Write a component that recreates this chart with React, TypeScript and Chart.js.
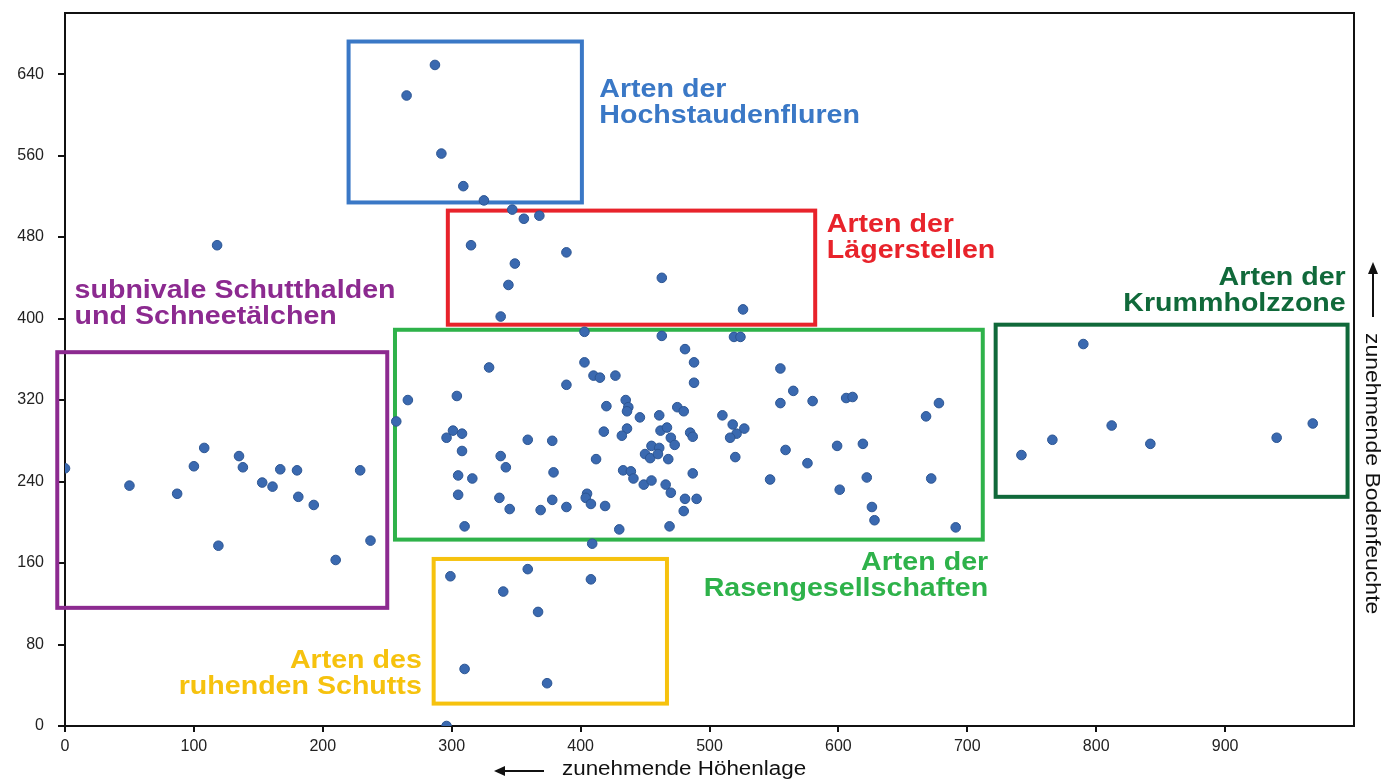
import React, { useEffect, useRef } from "react";
import { Chart, registerables } from "chart.js";

Chart.register(...registerables);

// Höhenlage (x) und Bodenfeuchte (y) der Arten
const hoehenlage: number[] = [
  0, 50, 87, 100, 108, 119, 135, 138, 153, 161, 167, 180, 181, 193, 210, 229, 237, 118,
  257, 266,
  287, 265, 292, 309, 325, 347, 356, 368,
  315, 389, 349, 344, 463, 526, 338,
  403, 463, 519, 524, 481, 488, 403, 329, 410, 415, 427, 389, 488, 555, 565, 555, 580, 606, 611, 678, 668,
  304, 435, 420, 437, 436, 446, 461, 475, 480, 510, 518, 527, 521, 516, 559, 520, 599, 619, 576, 547, 622,
  672, 601, 626, 628, 691, 418, 436, 432, 462, 467, 470, 473, 485, 487, 455, 461, 450, 454, 460, 468, 412,
  433, 439, 441, 449, 455, 487, 466, 470, 481, 490, 480, 405, 404, 408, 389, 419, 430, 469, 409,
  296, 301, 308, 308, 359, 378, 338, 342, 379, 305, 316, 305, 337, 345, 369, 378, 310,
  299, 359, 408, 340, 367, 310, 374, 296,
  742, 766, 812, 842, 940, 968, 790,
];
const bodenfeuchte: number[] = [
  253, 236, 228, 255, 273, 177, 265, 254, 239, 235, 252, 251, 225, 217, 163, 251, 182, 472,
  299, 320,
  649, 619, 562, 530, 516, 507, 498, 501,
  472, 465, 454, 433, 440, 409, 402,
  387, 383, 382, 382, 370, 357, 357, 352, 344, 342, 344, 335, 337, 351, 329, 317, 319, 322, 323, 317, 304,
  324, 320, 314, 313, 309, 303, 305, 313, 309, 305, 296, 292, 287, 283, 271, 264, 275, 277, 258, 242, 244,
  243, 232, 215, 202, 195, 289, 292, 285, 290, 293, 283, 276, 288, 284, 275, 273, 267, 263, 267, 262, 262,
  251, 250, 243, 237, 241, 248, 237, 229, 223, 223, 211, 228, 224, 218, 215, 216, 193, 196, 179,
  283, 290, 287, 270, 281, 280, 265, 254, 249, 246, 243, 227, 224, 213, 212, 222, 196,
  147, 154, 144, 132, 112, 56, 42, 0,
  266, 281, 295, 277, 283, 297, 375,
];

const xTickValues: number[] = [0, 100, 200, 300, 400, 500, 600, 700, 800, 900];
const yTickValues: number[] = [0, 80, 160, 240, 320, 400, 480, 560, 640];

// Gruppen (Bereiche in Datenkoordinaten: x von-bis, y von-bis)
const gruppenNamen: string[][] = [
  ["Arten der", "Hochstaudenfluren"],
  ["Arten der", "Lägerstellen"],
  ["Arten der", "Rasengesellschaften"],
  ["subnivale Schutthalden", "und Schneetälchen"],
  ["Arten des", "ruhenden Schutts"],
  ["Arten der", "Krummholzzone"],
];
const gruppenX: number[][] = [[220, 401], [297, 582], [256, 712], [-6, 250], [286, 467], [722, 995]];
const gruppenY: number[][] = [[514, 672], [394, 506], [183, 389], [116, 367], [22, 164], [225, 394]];
const gruppenFarben: string[] = ["#3a78c6", "#e8232b", "#2eb24a", "#8c2a90", "#f6c20e", "#10693a"];
// Beschriftungsanker (Datenkoordinaten) und Ausrichtung
const labelX: number[] = [414.5, 591, 716.2, 7.4, 276.8, 993.6];
const labelY: number[] = [617.5, 485, 153.2, 420.2, 56.6, 433];
const labelAlign: CanvasTextAlign[] = ["left", "left", "right", "left", "right", "right"];

const xTitel = "zunehmende Höhenlage";
const yTitel = "zunehmende Bodenfeuchte";

function drawStretched(
  ctx: CanvasRenderingContext2D,
  text: string,
  x: number,
  y: number,
  align: CanvasTextAlign,
  font: string,
  color: string,
  sx: number
) {
  ctx.save();
  ctx.translate(x, y);
  ctx.scale(sx, 1);
  ctx.font = font;
  ctx.fillStyle = color;
  ctx.textAlign = align;
  ctx.textBaseline = "alphabetic";
  ctx.fillText(text, 0, 0);
  ctx.restore();
}

const boxesPlugin = {
  id: "gruppenBoxen",
  beforeDatasetsDraw(chart: any) {
    const ctx: CanvasRenderingContext2D = chart.ctx;
    const xs = chart.scales.x;
    const ys = chart.scales.y;
    ctx.save();
    ctx.lineWidth = 4;
    for (let i = 0; i < gruppenX.length; i++) {
      const x1 = xs.getPixelForValue(gruppenX[i][0]);
      const x2 = xs.getPixelForValue(gruppenX[i][1]);
      const y1 = ys.getPixelForValue(gruppenY[i][1]);
      const y2 = ys.getPixelForValue(gruppenY[i][0]);
      ctx.strokeStyle = gruppenFarben[i];
      ctx.strokeRect(x1, y1, x2 - x1, y2 - y1);
    }
    for (let i = 0; i < gruppenNamen.length; i++) {
      const lx = xs.getPixelForValue(labelX[i]);
      const ly = ys.getPixelForValue(labelY[i]);
      gruppenNamen[i].forEach((line, j) => {
        drawStretched(ctx, line, lx, ly + j * 26, labelAlign[i], "bold 26px 'Liberation Sans', Arial, sans-serif", gruppenFarben[i], 1.1);
      });
    }
    ctx.restore();
  },
  afterDraw(chart: any) {
    const ctx: CanvasRenderingContext2D = chart.ctx;
    const a = chart.chartArea;
    ctx.save();
    // frame top/right
    ctx.strokeStyle = "#111";
    ctx.lineWidth = 2;
    ctx.beginPath();
    ctx.moveTo(a.left, a.top);
    ctx.lineTo(a.right, a.top);
    ctx.lineTo(a.right, a.bottom);
    ctx.stroke();

    // x title with arrow
    const font = "20px 'Liberation Sans', Arial, sans-serif";
    drawStretched(ctx, xTitel, 562, 775, "left", font, "#111", 1.12);
    ctx.strokeStyle = "#111";
    ctx.fillStyle = "#111";
    ctx.lineWidth = 2;
    ctx.beginPath();
    ctx.moveTo(544, 771);
    ctx.lineTo(502, 771);
    ctx.stroke();
    ctx.beginPath();
    ctx.moveTo(494, 771);
    ctx.lineTo(505, 766);
    ctx.lineTo(505, 776);
    ctx.closePath();
    ctx.fill();

    // y title (rotated) with arrow
    ctx.save();
    ctx.translate(1366, 333);
    ctx.rotate(Math.PI / 2);
    drawStretched(ctx, yTitel, 0, 0, "left", font, "#111", 1.15);
    ctx.restore();
    ctx.beginPath();
    ctx.moveTo(1373, 317);
    ctx.lineTo(1373, 272);
    ctx.stroke();
    ctx.beginPath();
    ctx.moveTo(1373, 262);
    ctx.lineTo(1368, 274);
    ctx.lineTo(1378, 274);
    ctx.closePath();
    ctx.fill();
    ctx.restore();
  },
};

export default function App() {
  const canvasRef = useRef<HTMLCanvasElement | null>(null);

  useEffect(() => {
    if (!canvasRef.current) return;
    const points = hoehenlage.map((x, i) => ({ x, y: bodenfeuchte[i] }));
    const chart = new Chart(canvasRef.current, {
      type: "scatter",
      data: {
        datasets: [
          {
            data: points,
            pointRadius: 4.8,
            pointHoverRadius: 4.8,
            backgroundColor: "#3a69b0",
            borderColor: "#2c5592",
            borderWidth: 1,
          },
        ],
      },
      options: {
        animation: false,
        responsive: false,
        devicePixelRatio: 1,
        layout: { padding: { left: 0, top: 13, right: 32, bottom: 0 } },
        plugins: { legend: { display: false }, tooltip: { enabled: false } },
        scales: {
          x: {
            type: "linear",
            min: 0,
            max: 1000,
            afterBuildTicks: (scale: any) => {
              scale.ticks = xTickValues.map((v) => ({ value: v }));
            },
            afterFit: (scale: any) => {
              scale.height = 56;
            },
            grid: { display: true, drawOnChartArea: false, drawTicks: true, tickLength: 6, color: "#111", lineWidth: 2 },
            border: { display: true, color: "#111", width: 2 },
            ticks: {
              padding: 5,
              color: "#222",
              font: { family: "'Liberation Sans', Arial, sans-serif", size: 16 },
              maxRotation: 0,
            },
          },
          y: {
            type: "linear",
            min: 0,
            max: 700,
            afterBuildTicks: (scale: any) => {
              scale.ticks = yTickValues.map((v) => ({ value: v }));
            },
            afterFit: (scale: any) => {
              scale.width = 65;
              scale.paddingTop = 0;
              scale.paddingBottom = 0;
            },
            grid: { display: true, drawOnChartArea: false, drawTicks: true, tickLength: 7, color: "#111", lineWidth: 2 },
            border: { display: true, color: "#111", width: 2 },
            ticks: {
              padding: 14,
              color: "#222",
              font: { family: "'Liberation Sans', Arial, sans-serif", size: 16 },
            },
          },
        },
      },
      plugins: [boxesPlugin],
    });
    return () => chart.destroy();
  }, []);

  return (
    <div style={{ position: "fixed", left: 0, top: 0, width: 1386, height: 782, background: "#fff" }}>
      <canvas ref={canvasRef} width={1386} height={782} style={{ display: "block" }} />
    </div>
  );
}
